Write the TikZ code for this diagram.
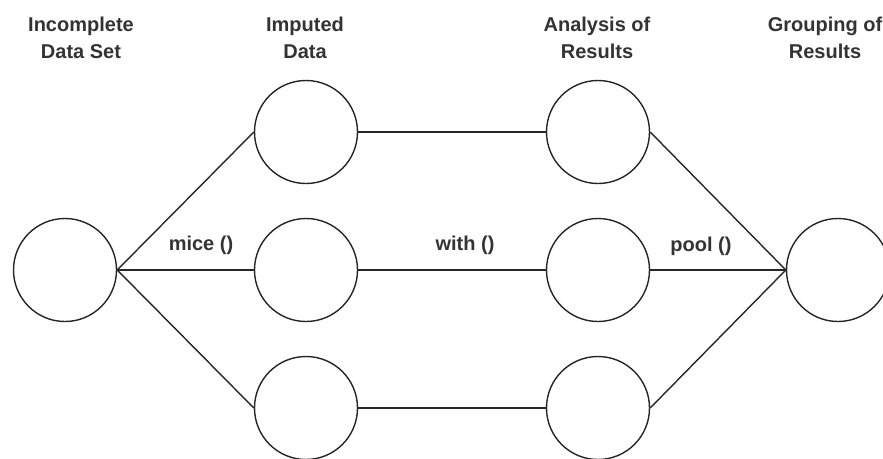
\documentclass[tikz,border=0pt]{standalone}
\usepackage{fontspec}
\setmainfont{Liberation Sans}
\begin{document}
\begin{tikzpicture}[x=1pt,y=-1pt,
  circ/.style={draw=black!85,line width=1.4pt,circle,minimum size=103pt,inner sep=0pt},
  conn/.style={draw=black!85,line width=1.4pt},
  ttl/.style={font=\bfseries\fontsize{20}{27}\selectfont,text=black!80,align=center,inner sep=0pt},
  lbl/.style={font=\bfseries\fontsize{20}{24}\selectfont,text=black!80,inner sep=0pt}]
\useasboundingbox (0,0) rectangle (883,458);
\node[circ] (src) at (65,270) {};
\node[circ] (i1) at (306,132) {};
\node[circ] (i2) at (306,270) {};
\node[circ] (i3) at (306,408) {};
\node[circ] (a1) at (598,132) {};
\node[circ] (a2) at (598,270) {};
\node[circ] (a3) at (598,408) {};
\node[circ] (g) at (838,270) {};
\draw[conn] (src.east) -- (i1.west);
\draw[conn] (src.east) -- (i2.west);
\draw[conn] (src.east) -- (i3.west);
\draw[conn] (i1.east) -- (a1.west);
\draw[conn] (i2.east) -- (a2.west);
\draw[conn] (i3.east) -- (a3.west);
\draw[conn] (a1.east) -- (g.west);
\draw[conn] (a2.east) -- (g.west);
\draw[conn] (a3.east) -- (g.west);
\node[ttl] (t1) at (81,38) {Incomplete\\Data Set};
\node[ttl] (t2) at (305,38) {Imputed\\Data};
\node[ttl] (t3) at (597,38) {Analysis of\\Results};
\node[ttl] (t4) at (825,38) {Grouping of\\Results};
\node[lbl] (l1) at (201,245) {mice ()};
\node[lbl] (l2) at (465,245) {with ()};
\node[lbl] (l3) at (701,246) {pool ()};
\end{tikzpicture}
\end{document}
